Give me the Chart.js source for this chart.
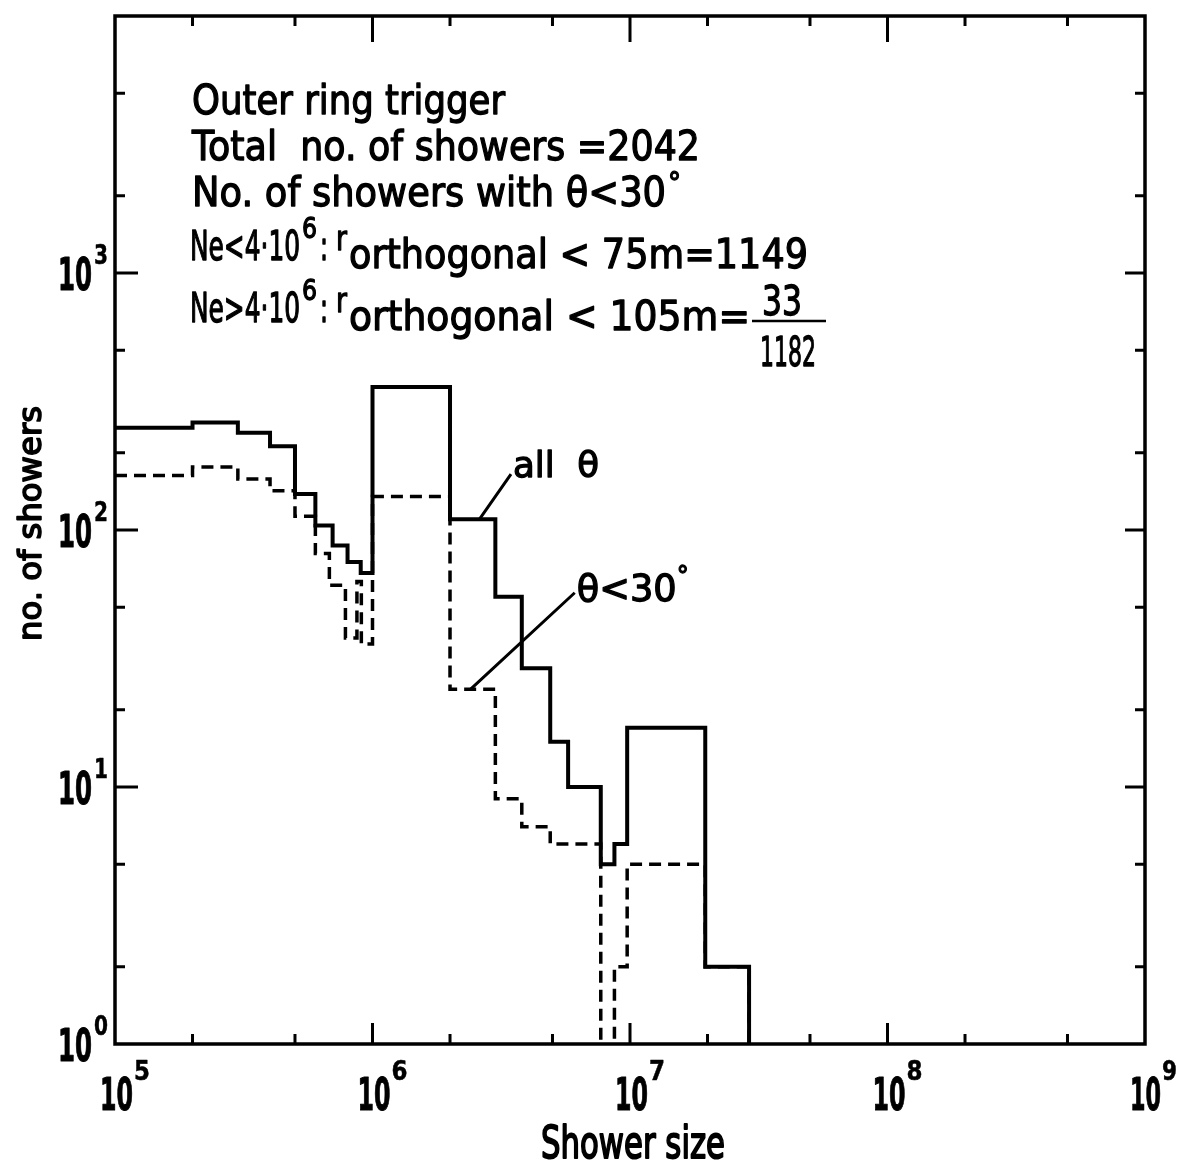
<!DOCTYPE html>
<html>
<head>
<meta charset="utf-8">
<script src="https://cdn.jsdelivr.net/npm/chart.js@4.4.0/dist/chart.umd.min.js"></script>
<style>
  html, body { margin: 0; padding: 0; background: #fff; }
  canvas { display: block; }
</style>
</head>
<body>
<canvas id="c" width="1180" height="1170"></canvas>
<script>
// Shower-size histograms: bin edges (shower size) and counts per bin.
const allThetaEdges = [1e5, 2e5, 3e5, 4e5, 5e5, 6e5, 7e5, 8e5, 9e5, 1e6, 2e6, 3e6, 3.8e6, 4.9e6, 5.75e6, 7.7e6, 8.7e6, 9.75e6, 1.96e7, 2.9e7];
const allThetaCounts = [250, 262, 239, 212, 138, 104, 87, 75, 68, 360, 110, 55, 29, 15, 10, 5, 6, 17, 2];

const lt30Edges = [1e5, 2e5, 3e5, 4e5, 5e5, 6e5, 6.8e5, 7.85e5, 8.7e5, 9.05e5, 1e6, 2e6, 3e6, 3.8e6, 4.9e6, 7.7e6, 8.7e6, 9.75e6, 1.96e7, 2.9e7];
const lt30Counts = [163, 176, 158, 142, 113, 81, 61, 38, 63, 36, 135, 24, 9, 7, 6, 0, 2, 5, 2];

// Axis decades and tick labels
const xDecades = [5, 6, 7, 8, 9];
const yDecades = [0, 1, 2, 3, 4];
const xLabelExps = ['5', '6', '7', '8', '9'];
const yLabelExps = ['0', '1', '2', '3'];
const minorMultipliers = [2, 5];

// Leader lines for the curve labels (data coordinates: [from, to])
const allThetaLeader = [[3.45e6, 165], [2.6e6, 110]];
const lt30Leader = [[6.1e6, 57], [2.4e6, 24]];

// Empty bins are drawn down to below the axis (clipped at the frame).
const FLOOR = 0.5;

function histPoints(edges, counts) {
  const pts = [];
  counts.forEach((c, i) => {
    const v = c > 0 ? c : FLOOR;
    pts.push({ x: edges[i], y: v });
    pts.push({ x: edges[i + 1], y: v });
  });
  pts.push({ x: edges[edges.length - 1], y: FLOOR });
  return pts;
}

const FONT = '"DejaVu Sans", "Liberation Sans", sans-serif';

// Draws text squeezed to a given width; an optional outline thickens the strokes.
function drawText(ctx, str, x, base, size, width, weight, thicken) {
  ctx.save();
  ctx.font = (weight || 'normal') + ' ' + size + 'px ' + FONT;
  ctx.textAlign = 'left';
  ctx.textBaseline = 'alphabetic';
  const w = ctx.measureText(str).width;
  const sx = width ? width / w : 0.8;
  ctx.translate(x, base);
  ctx.scale(sx, 1);
  ctx.fillStyle = '#000';
  ctx.fillText(str, 0, 0);
  const t = thicken === undefined ? 1.3 : thicken;
  if (t > 0) {
    ctx.strokeStyle = '#000';
    ctx.lineJoin = 'round';
    ctx.lineWidth = t;
    ctx.strokeText(str, 0, 0);
  }
  ctx.restore();
}

const framePlugin = {
  id: 'frame',
  afterDraw(chart) {
    const { ctx, chartArea, scales } = chart;
    const { left, top, right, bottom } = chartArea;
    const xs = scales.x, ys = scales.y;
    const W = chart.width;
    ctx.save();
    ctx.strokeStyle = '#000';
    ctx.fillStyle = '#000';

    // Frame
    ctx.lineWidth = 3.5;
    ctx.lineCap = 'square';
    ctx.strokeRect(left, top, right - left, bottom - top);

    // Inward ticks on all four sides
    ctx.lineWidth = 3;
    ctx.lineCap = 'butt';
    ctx.beginPath();
    xDecades.forEach(d => {
      [1].concat(minorMultipliers).forEach(m => {
        const v = m * Math.pow(10, d);
        if (v <= xs.min || v >= xs.max) return;
        const px = xs.getPixelForValue(v);
        const major = m === 1;
        ctx.moveTo(px, bottom); ctx.lineTo(px, bottom - (major ? 21 : 10));
        ctx.moveTo(px, top); ctx.lineTo(px, top + (major ? 26 : 10));
      });
    });
    yDecades.forEach(d => {
      [1].concat(minorMultipliers).forEach(m => {
        const v = m * Math.pow(10, d);
        if (v <= ys.min || v >= ys.max) return;
        const py = ys.getPixelForValue(v);
        const major = m === 1;
        ctx.moveTo(left, py); ctx.lineTo(left + (major ? 23 : 10), py);
        ctx.moveTo(right, py); ctx.lineTo(right - (major ? 20 : 10), py);
      });
    });
    ctx.stroke();

    // Tick labels: 10 with raised exponent
    xDecades.forEach((d, i) => {
      const px = xs.getPixelForValue(Math.pow(10, d));
      const x0 = px - 15;
      const avail = (W - 3) - x0;
      const k = Math.min(1, avail / 50);
      drawText(ctx, '10', x0, 1110, 44, 33 * k, 'bold', 1);
      drawText(ctx, xLabelExps[i], x0 + 34 * k, 1080, 26, 16 * k, 'bold', 0.5);
    });
    yLabelExps.forEach((e, i) => {
      const py = ys.getPixelForValue(Math.pow(10, yDecades[i]));
      drawText(ctx, '10', 58, py + 17, 44, 34, 'bold', 1);
      drawText(ctx, e, 94, py - 9, 26, 14, 'bold', 0.5);
    });

    // Axis titles
    drawText(ctx, 'Shower size', 541, 1158, 44, 184, 'normal', 2);
    ctx.save();
    ctx.translate(41, 641);
    ctx.rotate(-Math.PI / 2);
    drawText(ctx, 'no. of showers', 0, 0, 32, 235, 'normal', 1.6);
    ctx.restore();

    // Run description
    drawText(ctx, 'Outer ring trigger', 192, 114, 40, 313);
    drawText(ctx, 'Total  no. of showers =2042', 192, 160, 40, 508);
    drawText(ctx, 'No. of showers with \u03b8<30', 192, 206, 40, 474);
    drawText(ctx, '\u00b0', 668, 192, 28, 13);

    drawText(ctx, 'Ne<4\u00b710', 190, 260, 40, 110);
    drawText(ctx, '6', 302, 238, 28, 15);
    drawText(ctx, ':', 320, 260, 40, 8);
    drawText(ctx, 'r', 336, 250, 34, 11);
    drawText(ctx, 'orthogonal < 75m=1149', 349, 268, 40, 459);

    drawText(ctx, 'Ne>4\u00b710', 190, 322, 40, 110);
    drawText(ctx, '6', 302, 300, 28, 15);
    drawText(ctx, ':', 320, 322, 40, 8);
    drawText(ctx, 'r', 336, 312, 34, 11);
    drawText(ctx, 'orthogonal < 105m=', 349, 330, 40, 401);
    drawText(ctx, '33', 762, 315, 40, 40);
    ctx.lineWidth = 2.5;
    ctx.beginPath();
    ctx.moveTo(752, 321); ctx.lineTo(826, 321);
    ctx.stroke();
    drawText(ctx, '1182', 760, 366, 40, 56);

    // Curve labels with leader lines
    const p = (pt) => [xs.getPixelForValue(pt[0]), ys.getPixelForValue(pt[1])];
    ctx.lineWidth = 3;
    ctx.beginPath();
    [allThetaLeader, lt30Leader].forEach(l => {
      const a = p(l[0]), b = p(l[1]);
      ctx.moveTo(a[0], a[1]); ctx.lineTo(b[0], b[1]);
    });
    ctx.stroke();
    const a1 = p(allThetaLeader[0]);
    drawText(ctx, 'all  \u03b8', a1[0] + 2, a1[1] + 3, 36, 86);
    const a2 = p(lt30Leader[0]);
    drawText(ctx, '\u03b8<30', a2[0] + 2, a2[1] + 8, 38, 100);
    drawText(ctx, '\u00b0', a2[0] + 102, a2[1] - 8, 26, 12);

    ctx.restore();
  }
};

new Chart(document.getElementById('c').getContext('2d'), {
  type: 'line',
  data: {
    datasets: [
      {
        label: 'all \u03b8',
        data: histPoints(allThetaEdges, allThetaCounts),
        borderColor: '#000',
        borderWidth: 4,
        pointRadius: 0,
        fill: false,
        tension: 0,
        borderJoinStyle: 'miter'
      },
      {
        label: '\u03b8<30\u00b0',
        data: histPoints(lt30Edges, lt30Counts),
        borderColor: '#000',
        borderWidth: 3.5,
        borderDash: [12, 7],
        pointRadius: 0,
        fill: false,
        tension: 0,
        borderJoinStyle: 'miter'
      }
    ]
  },
  options: {
    responsive: false,
    animation: false,
    devicePixelRatio: 1,
    layout: { padding: { left: 115, top: 16, right: 35, bottom: 126 } },
    plugins: { legend: { display: false }, tooltip: { enabled: false } },
    scales: {
      x: { type: 'logarithmic', min: 1e5, max: 1e9, display: false },
      y: { type: 'logarithmic', min: 1, max: 1e4, display: false }
    }
  },
  plugins: [framePlugin]
});
</script>
</body>
</html>
